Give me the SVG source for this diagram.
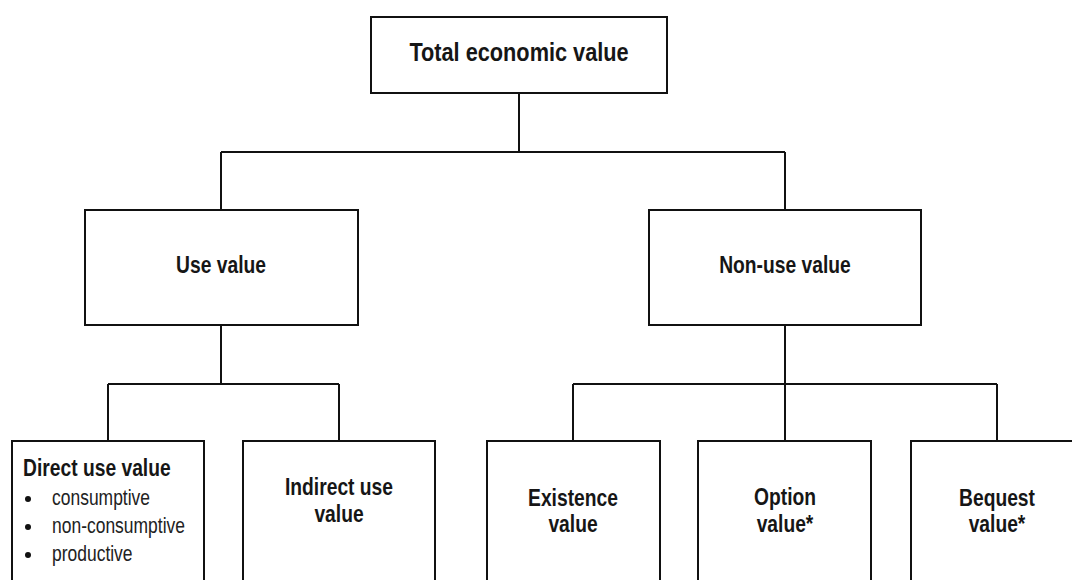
<svg xmlns="http://www.w3.org/2000/svg" width="1072" height="580" viewBox="0 0 1072 580">
<style>
.box{fill:#fff;stroke:#111;stroke-width:2}
.ln{fill:none;stroke:#111;stroke-width:2}
.t{font-family:"Liberation Sans Narrow","Arial Narrow","Liberation Sans",Arial,sans-serif;font-weight:bold;fill:#161616;font-size:23.5px;text-anchor:middle}
.big{font-size:26.5px}
.l{text-anchor:start}
.s{font-family:"Liberation Sans Narrow","Arial Narrow","Liberation Sans",Arial,sans-serif;fill:#222;font-size:21.3px}
</style>
<rect width="1072" height="580" fill="#fff"/>
<g id="connectors">
<path class="ln" d="M519 93V152M221 152H785M221 152V210M785 152V210"/>
<path class="ln" d="M221 325V384M108 384H339M108 384V441M339 384V441"/>
<path class="ln" d="M785 325V441M573 384H997M573 384V441M997 384V441"/>
</g>
<g id="total">
<rect class="box" x="371" y="17" width="296" height="76"/>
<text class="t big" transform="translate(519,61) scale(0.82,1)">Total economic value</text>
</g>
<g id="use">
<rect class="box" x="85" y="210" width="273" height="115"/>
<text class="t" transform="translate(221,273) scale(0.82,1)">Use value</text>
</g>
<g id="nonuse">
<rect class="box" x="649" y="210" width="272" height="115"/>
<text class="t" transform="translate(785,273) scale(0.82,1)">Non-use value</text>
</g>
<g id="direct">
<rect class="box" x="12" y="441" width="192" height="160"/>
<text class="t l" transform="translate(23,476) scale(0.82,1)">Direct use value</text>
<circle cx="28" cy="499" r="3" fill="#111"/>
<circle cx="28" cy="527" r="3" fill="#111"/>
<circle cx="28" cy="555" r="3" fill="#111"/>
<text class="s" transform="translate(52,505) scale(0.82,1)">consumptive</text>
<text class="s" transform="translate(52,533) scale(0.82,1)">non-consumptive</text>
<text class="s" transform="translate(52,561) scale(0.82,1)">productive</text>
</g>
<g id="indirect">
<rect class="box" x="243" y="441" width="192" height="160"/>
<text class="t" transform="translate(339,495) scale(0.82,1)">Indirect use</text>
<text class="t" transform="translate(339,521.5) scale(0.82,1)">value</text>
</g>
<g id="existence">
<rect class="box" x="487" y="441" width="173" height="160"/>
<text class="t" transform="translate(573,506) scale(0.82,1)">Existence</text>
<text class="t" transform="translate(573,532) scale(0.82,1)">value</text>
</g>
<g id="option">
<rect class="box" x="698" y="441" width="173" height="160"/>
<text class="t" transform="translate(785,505) scale(0.82,1)">Option</text>
<text class="t" transform="translate(785,531.5) scale(0.82,1)">value*</text>
</g>
<g id="bequest">
<rect class="box" x="911" y="441" width="173" height="160"/>
<text class="t" transform="translate(997,506) scale(0.82,1)">Bequest</text>
<text class="t" transform="translate(997,532) scale(0.82,1)">value*</text>
</g>
</svg>
